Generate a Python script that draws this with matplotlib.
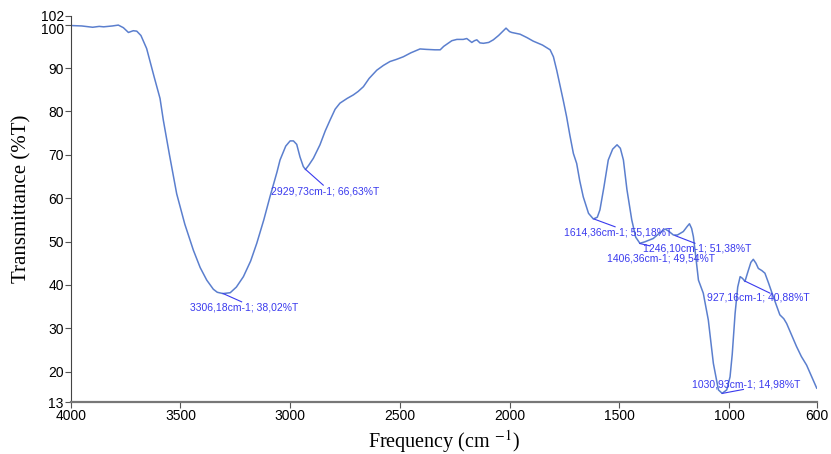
#!/usr/bin/env python3
# -*- coding: utf-8 -*-
"""
FTIR transmittance spectrum with labelled peaks.
"""
import matplotlib
matplotlib.use('Agg')
import matplotlib.pyplot as plt
import matplotlib.transforms as mtransforms

# spectrum
wavenumber = [4000, 3950, 3900, 3870, 3850, 3810, 3783, 3760, 3737, 3715, 3699, 3680,
              3654, 3620, 3593, 3578, 3550, 3517, 3480, 3441, 3410, 3380, 3350, 3332,
              3306, 3273, 3245, 3213, 3180, 3152, 3120, 3092, 3060, 3046, 3020, 3000,
              2985, 2970, 2955, 2940, 2930, 2915, 2894, 2864, 2840, 2818, 2795, 2773,
              2740, 2712, 2690, 2666, 2640, 2605, 2575, 2545, 2515, 2484, 2450, 2408,
              2380, 2340, 2316, 2300, 2263, 2240, 2211, 2195, 2172, 2160, 2149, 2135,
              2119, 2095, 2074, 2050, 2016, 2000, 1990, 1970, 1952, 1920, 1892, 1850,
              1815, 1800, 1785, 1770, 1755, 1740, 1725, 1709, 1694, 1680, 1664, 1640,
              1618, 1600, 1588, 1570, 1550, 1530, 1510, 1495, 1481, 1465, 1443, 1425,
              1406, 1385, 1365, 1345, 1320, 1291, 1275, 1253, 1235, 1208, 1190, 1180,
              1170, 1162, 1150, 1139, 1117, 1094, 1071, 1048, 1031, 1010, 995, 985,
              972, 960, 949, 938, 927, 915, 900, 889, 877, 866, 850, 836,
              820, 798, 768, 750, 737, 715, 692, 670, 646, 620, 600]
transmittance = [99.8, 99.7, 99.4, 99.6, 99.5, 99.7, 99.9, 99.3, 98.2, 98.6, 98.5, 97.5,
                 94.5, 88.0, 83.0, 78.0, 70.0, 61.0, 54.0, 48.0, 44.0, 41.1, 39.0, 38.3,
                 38.0, 38.2, 39.5, 41.9, 45.5, 49.6, 55.0, 60.3, 66.0, 68.8, 72.0, 73.2,
                 73.2, 72.4, 69.5, 67.3, 66.6, 67.6, 69.2, 72.3, 75.5, 78.0, 80.5, 81.9,
                 83.0, 83.8, 84.6, 85.7, 87.6, 89.5, 90.6, 91.5, 92.0, 92.6, 93.5, 94.4,
                 94.3, 94.2, 94.2, 95.0, 96.3, 96.6, 96.6, 96.8, 95.9, 96.3, 96.5, 95.8,
                 95.7, 95.9, 96.5, 97.5, 99.2, 98.4, 98.2, 98.0, 97.8, 97.0, 96.2, 95.3,
                 94.2, 92.6, 89.5, 86.0, 82.5, 78.8, 74.5, 70.3, 68.0, 64.0, 60.3, 56.5,
                 55.2, 55.6, 57.3, 62.5, 68.8, 71.3, 72.3, 71.5, 68.8, 62.0, 55.0, 51.0,
                 49.6, 49.9, 50.3, 50.7, 51.8, 52.9, 52.4, 51.5, 51.5, 52.3, 53.5, 54.1,
                 53.0, 51.1, 46.0, 41.1, 38.1, 31.9, 21.9, 15.8, 15.0, 15.8, 18.8, 24.0,
                 33.4, 39.5, 41.9, 41.5, 40.8, 42.8, 45.2, 45.9, 45.0, 43.8, 43.3, 42.7,
                 40.5, 37.3, 33.1, 32.2, 31.1, 28.5, 25.8, 23.5, 21.5, 18.5, 16.2]

# peak labels
peak_x = [3306.18, 2929.73, 1614.36, 1406.36, 1246.10, 1030.93, 927.16]
peak_y = [38.02, 66.63, 55.18, 49.54, 51.38, 14.98, 40.88]
peak_text = ['3306,18cm-1; 38,02%T', '2929,73cm-1; 66,63%T', '1614,36cm-1; 55,18%T',
             '1406,36cm-1; 49,54%T', '1246,10cm-1; 51,38%T', '1030,93cm-1; 14,98%T',
             '927,16cm-1; 40,88%T']
label_x = [3456, 3087, 1752, 1556, 1391, 1168, 1100]
label_y = [34.9, 61.6, 52.0, 46.2, 48.3, 17.1, 37.0]
line_end_x = [3221, 2849, 1519, 1360, 1155, 934, 813]
line_end_y = [36.1, 63.0, 53.4, 49.0, 49.6, 15.9, 38.1]

xticks = [4000, 3500, 3000, 2500, 2000, 1500, 1000, 600]
yticks = [13, 20, 30, 40, 50, 60, 70, 80, 90, 100, 102]

line_color = '#5b7fce'
text_color = '#3a3aee'

plt.rcParams['font.family'] = ['Liberation Sans', 'DejaVu Sans']
plt.rcParams['mathtext.fontset'] = 'stix'

fig = plt.figure(figsize=(8.31, 4.54), dpi=100)
ax = fig.add_axes([0.0851, 0.1145, 0.8977, 0.8503])

ax.plot(wavenumber, transmittance, color=line_color, lw=1.1)

for px, py, txt, tx, ty, ex, ey in zip(peak_x, peak_y, peak_text, label_x, label_y,
                                       line_end_x, line_end_y):
    ax.plot([px, ex], [py, ey], color=text_color, lw=0.8)
    ax.text(tx, ty, txt, color=text_color, fontsize=7.5, ha='left', va='center')

ax.set_xlim(4000, 600)
ax.set_ylim(13, 102)
ax.set_xticks(xticks)
ax.set_yticks(yticks)
ax.tick_params(labelsize=10, length=4, width=0.8, color='#555555', pad=1)

# nudge the 100 label down so it clears the 102 label
for lab in ax.get_yticklabels():
    if lab.get_text() == '100':
        lab.set_transform(lab.get_transform() +
                          mtransforms.ScaledTranslation(0, -4 / 100, fig.dpi_scale_trans))

for side in ['top', 'right']:
    ax.spines[side].set_visible(False)
ax.spines['left'].set_color('#444444')
ax.spines['bottom'].set_color('#777777')
ax.spines['bottom'].set_linewidth(1.6)

ax.set_ylabel('Transmittance (%T)', family='Liberation Serif', fontsize=15)
ax.yaxis.set_label_coords(-0.052, 0.526)
ax.set_xlabel('Frequency (cm $^{-1}$)', family='Liberation Serif', fontsize=14.5)
ax.xaxis.set_label_coords(0.5, -0.068)

fig.savefig('out.png', dpi=100)
